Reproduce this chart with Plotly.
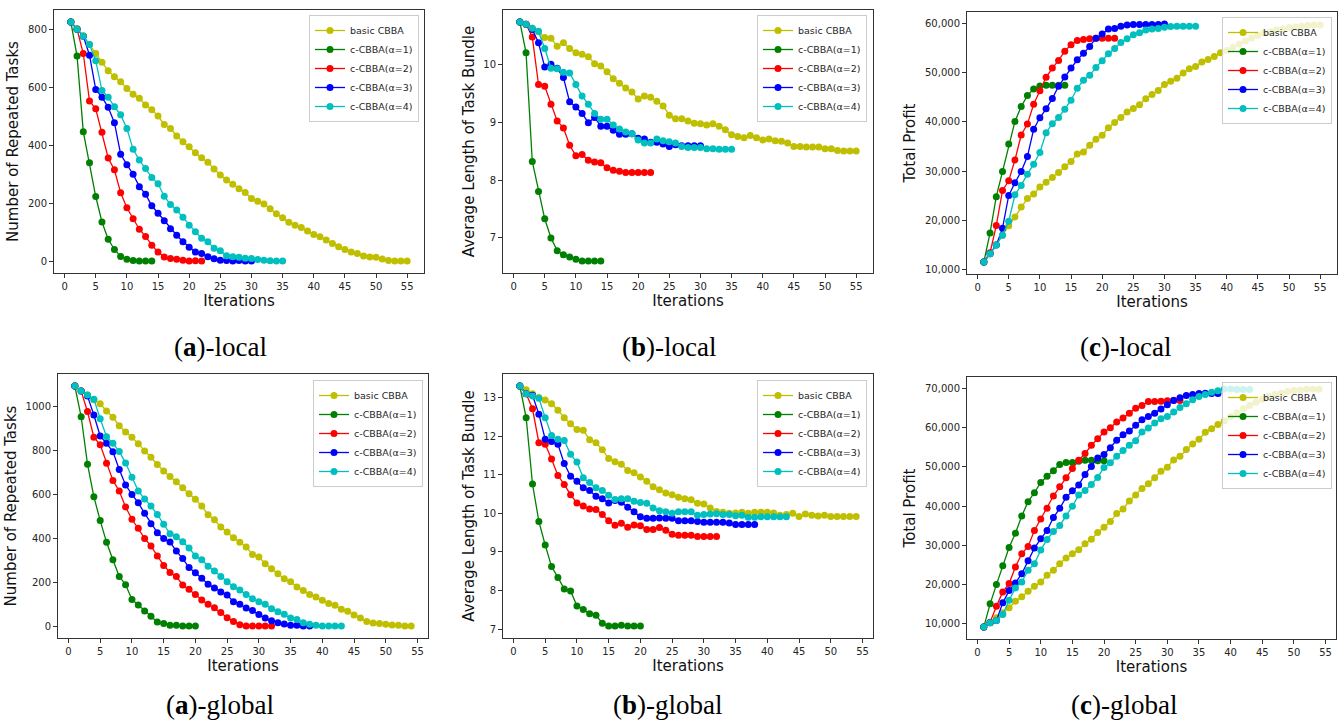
import plotly.graph_objects as go

# ---------------- data ----------------
iter_label = "Iterations"
series_names = ["basic CBBA", "c-CBBA(α=1)", "c-CBBA(α=2)", "c-CBBA(α=3)", "c-CBBA(α=4)"]
series_colors = ["#bfbf00", "#008000", "#ff0000", "#0000ff", "#00bfbf"]

# (a)-local : number of repeated tasks
rep_local_basic = [826, 803, 778, 748, 717, 687, 657, 637, 619, 596,
                   576, 562, 539, 523, 501, 472, 458, 432, 412, 395,
                   374, 357, 341, 318, 297, 280, 265, 250, 237, 216,
                   207, 197, 181, 163, 150, 134, 124, 116, 104, 92,
                   84, 73, 61, 49, 40, 31, 26, 17, 14, 13,
                   7, 2, 0, 0, 0]
rep_local_a1 = [826, 708, 447, 340, 223, 135, 75, 40, 16, 6, 2, 0, 0, 0]
rep_local_a2 = [826, 801, 717, 553, 526, 445, 356, 315, 236, 184,
                146, 110, 85, 55, 31, 14, 9, 6, 3, 0, 1, 0]
rep_local_a3 = [826, 801, 777, 711, 593, 566, 531, 478, 369, 333,
                300, 257, 231, 191, 165, 139, 112, 89, 67, 48,
                31, 26, 15, 8, 3, 2, 0, 2, 0, 0]
rep_local_a4 = [826, 801, 777, 748, 692, 589, 566, 533, 505, 458,
                386, 349, 320, 289, 267, 224, 195, 176, 151, 124,
                101, 79, 67, 44, 36, 18, 15, 13, 10, 9,
                5, 3, 1, 0, 0]

# (b)-local : average length of task bundle
len_local_basic = [10.73, 10.69, 10.62, 10.56, 10.46, 10.45, 10.31, 10.37, 10.27, 10.20,
                   10.17, 10.13, 10.01, 9.97, 9.87, 9.75, 9.67, 9.59, 9.52, 9.40,
                   9.45, 9.43, 9.36, 9.28, 9.12, 9.06, 9.06, 9.02, 8.98, 8.97,
                   8.95, 8.97, 8.93, 8.87, 8.78, 8.75, 8.73, 8.77, 8.73, 8.69,
                   8.71, 8.68, 8.67, 8.64, 8.58, 8.58, 8.57, 8.57, 8.57, 8.54,
                   8.54, 8.51, 8.50, 8.50, 8.50]
len_local_a1 = [10.73, 10.20, 8.32, 7.80, 7.33, 7.00, 6.78, 6.71, 6.67, 6.63,
                6.60, 6.60, 6.60, 6.60]
len_local_a2 = [10.73, 10.69, 10.47, 9.65, 9.62, 9.31, 9.02, 8.90, 8.60, 8.42,
                8.44, 8.34, 8.31, 8.30, 8.21, 8.17, 8.15, 8.13, 8.13, 8.13,
                8.13, 8.13]
len_local_a3 = [10.73, 10.69, 10.60, 10.37, 9.95, 10.00, 9.93, 9.77, 9.35, 9.26,
                9.15, 8.99, 9.08, 8.93, 8.93, 8.86, 8.79, 8.79, 8.80, 8.72,
                8.71, 8.65, 8.65, 8.62, 8.58, 8.61, 8.59, 8.59, 8.59, 8.59]
len_local_a4 = [10.73, 10.69, 10.62, 10.57, 10.27, 9.93, 9.92, 9.86, 9.85, 9.65,
                9.45, 9.31, 9.15, 9.05, 9.05, 8.95, 8.88, 8.83, 8.80, 8.69,
                8.64, 8.64, 8.71, 8.68, 8.66, 8.64, 8.58, 8.56, 8.56, 8.56,
                8.54, 8.54, 8.53, 8.53, 8.53]

# (c)-local : total profit
profit_local_basic = [11600, 13300, 15100, 17060, 18940, 20750, 22770, 24500, 25400, 26800,
                      27800, 28750, 29760, 30900, 32000, 33520, 33900, 35270, 36480, 37300,
                      38830, 39900, 40900, 42000, 42730, 43500, 44700, 45550, 46360, 47600,
                      48240, 48840, 49900, 50800, 51260, 52140, 52670, 53280, 54000, 54500,
                      55160, 55800, 56400, 57000, 57580, 58050, 58300, 58650, 58860, 59130,
                      59260, 59400, 59530, 59660, 59660]
profit_local_a1 = [11600, 17500, 24850, 29960, 35540, 40100, 43130, 45350, 46700, 47300,
                   47430, 47430, 47430, 47430]
profit_local_a2 = [11600, 13500, 19000, 26130, 28080, 32300, 37350, 39570, 43600, 46300,
                   49050, 50930, 52470, 54350, 55630, 56500, 56700, 56840, 56980, 56980,
                   56980, 56980]
profit_local_a3 = [11600, 13300, 15040, 18470, 25120, 27670, 29960, 33000, 38500, 40850,
                   42660, 44740, 47230, 49100, 50930, 52600, 53900, 55300, 56980, 57800,
                   58860, 58920, 59400, 59660, 59730, 59730, 59730, 59730, 59730, 59870]
profit_local_a4 = [11600, 13300, 15040, 17060, 19880, 25250, 27140, 29420, 31440, 33800,
                   37820, 39640, 40900, 42600, 44400, 46830, 48440, 49450, 51060, 52400,
                   53800, 54900, 56100, 56840, 57650, 58100, 58650, 58860, 58920, 59200,
                   59330, 59400, 59400, 59400, 59400]

# (a)-global : number of repeated tasks
rep_global_basic = [1093, 1070, 1052, 1030, 1012, 979, 951, 912, 883, 860,
                    830, 797, 769, 736, 706, 681, 657, 630, 602, 577,
                    546, 507, 484, 451, 428, 402, 381, 360, 326, 314,
                    284, 261, 238, 215, 202, 178, 162, 144, 132, 117,
                    102, 94, 76, 67, 50, 36, 21, 14, 11, 8,
                    5, 3, 0, 0]
rep_global_a1 = [1093, 953, 737, 589, 480, 381, 302, 226, 188, 121,
                 96, 68, 44, 18, 11, 3, 3, 0, 0, 0]
rep_global_a2 = [1093, 1070, 977, 860, 825, 741, 663, 615, 542, 486,
                 445, 399, 364, 319, 276, 244, 225, 187, 167, 144,
                 118, 99, 83, 61, 38, 20, 6, 0, 0, 0,
                 0, 0]
rep_global_a3 = [1093, 1070, 1047, 961, 865, 832, 794, 713, 642, 599,
                 561, 513, 466, 425, 398, 382, 341, 307, 266, 243,
                 217, 190, 173, 155, 141, 111, 99, 82, 71, 52,
                 36, 24, 15, 9, 3, 3, 0, 0]
rep_global_a4 = [1093, 1070, 1052, 1033, 944, 862, 832, 795, 742, 678,
                 615, 578, 546, 508, 463, 420, 407, 384, 355, 319,
                 302, 272, 250, 226, 202, 179, 164, 144, 124, 111,
                 99, 79, 65, 53, 36, 30, 15, 8, 3, 0,
                 0, 0, 0]

# (b)-global : average length of task bundle
len_global_basic = [13.30, 13.20, 13.10, 13.00, 12.94, 12.84, 12.67, 12.48, 12.32, 12.17,
                    12.15, 11.91, 11.83, 11.65, 11.42, 11.34, 11.27, 11.11, 11.05, 10.94,
                    10.83, 10.69, 10.61, 10.53, 10.48, 10.42, 10.38, 10.35, 10.26, 10.24,
                    10.14, 10.05, 10.03, 10.00, 10.01, 10.03, 10.00, 10.03, 10.03, 10.03,
                    10.01, 9.95, 9.97, 10.00, 9.92, 9.98, 9.95, 9.93, 9.95, 9.92,
                    9.92, 9.92, 9.92, 9.92]
len_global_a1 = [13.30, 12.48, 10.76, 9.79, 9.18, 8.62, 8.34, 8.04, 7.99, 7.60,
                 7.51, 7.40, 7.36, 7.15, 7.08, 7.08, 7.10, 7.08, 7.08, 7.08]
len_global_a2 = [13.30, 13.10, 12.71, 11.83, 11.79, 11.41, 10.98, 10.75, 10.48, 10.27,
                 10.19, 10.11, 10.10, 9.97, 9.81, 9.69, 9.74, 9.64, 9.70, 9.68,
                 9.58, 9.58, 9.63, 9.56, 9.46, 9.43, 9.43, 9.43, 9.40, 9.40,
                 9.40, 9.40]
len_global_a3 = [13.30, 13.10, 13.06, 12.57, 11.92, 11.86, 11.79, 11.29, 10.96, 10.83,
                 10.66, 10.59, 10.44, 10.38, 10.27, 10.33, 10.29, 10.16, 10.04, 9.91,
                 9.87, 9.87, 9.88, 9.87, 9.87, 9.81, 9.81, 9.81, 9.79, 9.77,
                 9.77, 9.77, 9.77, 9.75, 9.71, 9.71, 9.71, 9.71]
len_global_a4 = [13.30, 13.10, 13.04, 12.98, 12.48, 12.02, 11.92, 11.89, 11.53, 11.33,
                 10.92, 10.80, 10.66, 10.59, 10.47, 10.36, 10.38, 10.38, 10.31, 10.28,
                 10.26, 10.14, 10.07, 10.04, 10.00, 10.04, 10.04, 10.04, 9.95, 9.97,
                 9.98, 9.99, 9.97, 9.97, 9.94, 9.95, 9.90, 9.90, 9.91, 9.91,
                 9.91, 9.91, 9.91]

# (c)-global : total profit
profit_global_basic = [9150, 10250, 11500, 12800, 14060, 15750, 16850, 18300, 19550, 20650,
                       22340, 23600, 25300, 26730, 27830, 28850, 30370, 31550, 33240, 34600,
                       36030, 38060, 39240, 41270, 42790, 44480, 45660, 47180, 48870, 49890,
                       51750, 52680, 54370, 55800, 56990, 58760, 59690, 60790, 61640, 62820,
                       63750, 64760, 65600, 66450, 67130, 67890, 68400, 68730, 69160, 69400,
                       69580, 69750, 69750, 69750]
profit_global_a1 = [9150, 15070, 19970, 24790, 29440, 33070, 37470, 41100, 43380, 46000,
                    47600, 48960, 50560, 51070, 51070, 51400, 51660, 51660, 51500, 51500]
profit_global_a2 = [9150, 10400, 14480, 18110, 20230, 24450, 27830, 29690, 33750, 36700,
                    39410, 42540, 44900, 47180, 49550, 51660, 53350, 55470, 57160, 58850,
                    59950, 61380, 62400, 63660, 64930, 65600, 66620, 66620, 66700, 66790,
                    66960, 66870]
profit_global_a3 = [9150, 10250, 10850, 15320, 18450, 20400, 22760, 26060, 29270, 31630,
                    33750, 37040, 39410, 42200, 43890, 45320, 48030, 50060, 52260, 53100,
                    54870, 56730, 58170, 59100, 60540, 61970, 62820, 63660, 64680, 65780,
                    66870, 67550, 68140, 68400, 68650, 68730, 68650, 68650]
profit_global_a4 = [9150, 10250, 10850, 12370, 16000, 19130, 20650, 23600, 25300, 28760,
                    31470, 33490, 35000, 37470, 39920, 42790, 43970, 45490, 47270, 49800,
                    50990, 52680, 54110, 55470, 56650, 58850, 59860, 61130, 62230, 62820,
                    63920, 65100, 66030, 67040, 67890, 68400, 68990, 69330, 69830, 69830,
                    69660, 69660, 69660]

panel_series = [
    [rep_local_basic, rep_local_a1, rep_local_a2, rep_local_a3, rep_local_a4],
    [len_local_basic, len_local_a1, len_local_a2, len_local_a3, len_local_a4],
    [profit_local_basic, profit_local_a1, profit_local_a2, profit_local_a3, profit_local_a4],
    [rep_global_basic, rep_global_a1, rep_global_a2, rep_global_a3, rep_global_a4],
    [len_global_basic, len_global_a1, len_global_a2, len_global_a3, len_global_a4],
    [profit_global_basic, profit_global_a1, profit_global_a2, profit_global_a3, profit_global_a4],
]
panel_ytitles = ["Number of Repeated Tasks", "Average Length of Task Bundle", "Total Profit",
                 "Number of Repeated Tasks", "Average Length of Task Bundle", "Total Profit"]
panel_ydtick = [200, 1, 10000, 200, 1, 10000]
panel_yformat = ["d", "d", ",d", "d", "d", ",d"]
panel_captions = ["(<b>a</b>)-local", "(<b>b</b>)-local", "(<b>c</b>)-local",
                  "(<b>a</b>)-global", "(<b>b</b>)-global", "(<b>c</b>)-global"]

# ---------------- layout geometry (pixels) ----------------
W, H = 1341, 722
# plot-area boxes: left, right, top, bottom
panel_boxes = [
    (54, 424, 10, 273), (503, 873, 10, 273), (967, 1337, 12, 274),
    (58, 428, 374, 638), (503, 873, 374, 638), (967, 1336, 377, 639),
]
# legend top-right corners
legend_corners = [(419, 15), (867, 15), (1332, 17), (423, 380), (867, 380), (1332, 382)]
caption_pos = [(220, 347), (669, 347), (1125, 347), (220, 705), (668, 705), (1124, 705)]

tick_font = dict(family="DejaVu Sans", size=10, color="#262626")
title_font = dict(family="DejaVu Sans", size=15, color="#111111")

fig = go.Figure()
layout = dict(
    width=W, height=H, margin=dict(l=0, r=0, t=0, b=0),
    paper_bgcolor="white", plot_bgcolor="white", showlegend=True,
)
annotations = []


def padded(lo, hi):
    span = hi - lo
    return [lo - 0.05 * span, hi + 0.05 * span]


for p, series in enumerate(panel_series):
    idx = "" if p == 0 else str(p + 1)
    legend_name = "legend" if p == 0 else f"legend{p + 1}"
    for name, color, vals in zip(series_names, series_colors, series):
        xs = list(range(1, len(vals) + 1))
        fig.add_trace(go.Scatter(
            x=xs, y=vals, name=name, mode="lines+markers",
            line=dict(color=color, width=1.3),
            marker=dict(color=color, size=7),
            xaxis="x" + idx, yaxis="y" + idx, legend=legend_name,
        ))
    all_x = [i for s in series for i in range(1, len(s) + 1)]
    all_y = [v for s in series for v in s]
    l, r, t, b = panel_boxes[p]
    axis_common = dict(showline=True, linecolor="#333333", linewidth=1, mirror=True,
                       ticks="outside", ticklen=4, tickwidth=1, tickcolor="#333333",
                       showgrid=False, zeroline=False, tickfont=tick_font)
    layout["xaxis" + idx] = dict(
        axis_common, domain=[l / W, r / W], anchor="y" + idx,
        range=padded(min(all_x), max(all_x)), dtick=5, tick0=0,
        title=dict(text=iter_label, font=title_font, standoff=3),
    )
    layout["yaxis" + idx] = dict(
        axis_common, domain=[1 - b / H, 1 - t / H], anchor="x" + idx,
        range=padded(min(all_y), max(all_y)), dtick=panel_ydtick[p],
        tickformat=panel_yformat[p],
        title=dict(text=panel_ytitles[p], font=title_font, standoff=5),
    )
    lx, ly = legend_corners[p]
    layout[legend_name] = dict(
        x=lx / W, y=1 - ly / H, xanchor="right", yanchor="top",
        bgcolor="rgba(255,255,255,0.8)", bordercolor="#cccccc", borderwidth=1,
        font=dict(family="DejaVu Sans", size=9.5, color="#262626"),
        itemwidth=30, tracegroupgap=0,
    )
    cx, cy = caption_pos[p]
    annotations.append(dict(
        text=panel_captions[p], x=cx / W, y=1 - cy / H, xref="paper", yref="paper",
        xanchor="center", yanchor="middle", showarrow=False,
        font=dict(family="Liberation Serif", size=27, color="#000000"),
    ))

layout["annotations"] = annotations
fig.update_layout(**layout)
fig.write_html("out.html")
